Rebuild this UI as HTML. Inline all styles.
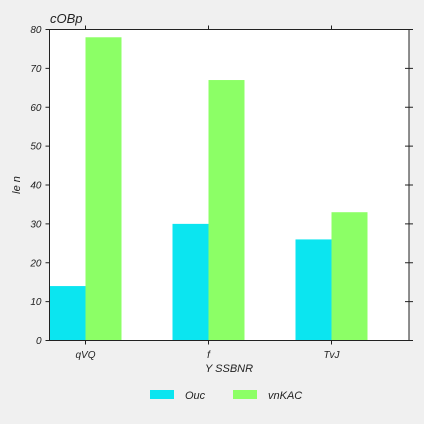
<!DOCTYPE html>
<html><head><meta charset="utf-8"><style>
body{margin:0;background:#f0f0f0;}
svg{display:block;font-family:"Liberation Sans",sans-serif;font-style:italic;}
</style></head><body>
<svg width="424" height="424">
<rect x="0" y="0" width="424" height="424" fill="#f0f0f0"/>
<rect x="49.5" y="29.5" width="359.5" height="311" fill="#fff"/>
<g id="bars"></g>
<g id="ticks"></g>
<rect x="49.5" y="29.5" width="359.5" height="311" fill="none" stroke="#222" stroke-width="1"/>
<text x="50" y="23" font-size="13" fill="#222">cOBp</text>
<text x="20" y="185" font-size="11" fill="#222" text-anchor="middle" transform="rotate(-90 20 185)">le n</text>
<text x="229" y="372" font-size="11" fill="#222" text-anchor="middle">Y SSBNR</text>
<g>
<rect x="150" y="390" width="24" height="9" fill="#0be5f0"/>
<text x="185" y="399" font-size="11" fill="#222">Ouc</text>
<rect x="233" y="390" width="24" height="9" fill="#8cff66"/>
<text x="268" y="399" font-size="11" fill="#222">vnKAC</text>
</g>
</svg>
<script>
const categories=["qVQ","f","TvJ"];
const seriesOuc=[14,30,26];
const seriesVnKAC=[78,67,33];
const yTicks=[0,10,20,30,40,50,60,70,80];
const NS="http://www.w3.org/2000/svg";
const x0=49.5,x1=409,y0=340.5,y1=29.5;
const ys=v=>y0-(v/80)*(y0-y1);
const step=123,barW=36;
const xc=i=>85.5+i*step;
const bars=document.getElementById('bars'),ticks=document.getElementById('ticks');
function mk(t,a,p){const e=document.createElementNS(NS,t);for(const k in a)e.setAttribute(k,a[k]);p.appendChild(e);return e;}
categories.forEach((c,i)=>{
  let r=mk('rect',{x:xc(i)-barW,y:ys(seriesOuc[i]),width:barW,height:y0-ys(seriesOuc[i]),fill:'#0be5f0'},bars);
  
  
  r=mk('rect',{x:xc(i),y:ys(seriesVnKAC[i]),width:barW,height:y0-ys(seriesVnKAC[i]),fill:'#8cff66'},bars);
  
  
  let t=mk('text',{x:xc(i),y:358,'font-size':10,fill:'#222','text-anchor':'middle'},ticks);
  t.textContent=c;
  
  
  mk('line',{x1:xc(i),x2:xc(i),y1:y0,y2:y0+4,stroke:'#222'},ticks);
  mk('line',{x1:xc(i),x2:xc(i),y1:y1,y2:y1-4,stroke:'#222'},ticks);
});
yTicks.forEach(v=>{
  const y=ys(v);
  mk('line',{x1:x0-4,x2:x0,y1:y,y2:y,stroke:'#222'},ticks);
  mk('line',{x1:x1-4,x2:x1+4,y1:y,y2:y,stroke:'#222'},ticks);
  const t=mk('text',{x:x0-8,y:y+3.5,'font-size':10,fill:'#222','text-anchor':'end'},ticks);
  t.textContent=v;
  
  
});
</script>
</body></html>
